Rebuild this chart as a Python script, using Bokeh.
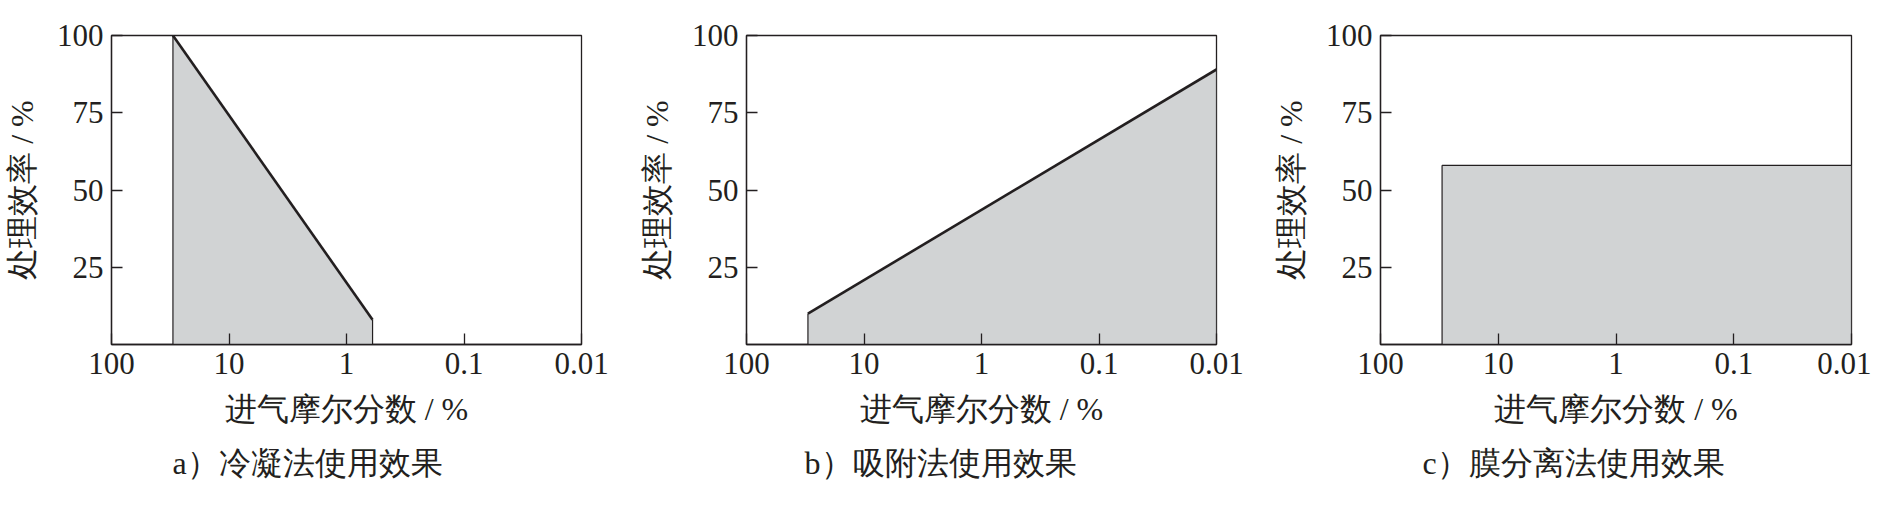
from bokeh.plotting import figure
from bokeh.models import Range1d, FixedTicker, CustomJSTickFormatter, Title
from bokeh.layouts import row
from bokeh.embed import file_html
from bokeh.resources import INLINE

# ---- data ----
x_ticks = [100, 10, 1, 0.1, 0.01]
y_ticks = [25, 50, 75, 100]
x_label = "进气摩尔分数 / %"
y_label = "处理效率 / %"
captions = ["a）冷凝法使用效果", "b）吸附法使用效果", "c）膜分离法使用效果"]

cond_x = [30, 0.6]      # condensation: feed mole fraction, %
cond_y = [100, 8]       # efficiency, %
ads_x = [30, 0.01]      # adsorption
ads_y = [10, 89]
mem_x = [30, 0.01]      # membrane separation
mem_y = [58, 58]

INK = "#231f20"
FILL = "#d1d3d4"
FONT = "Liberation Serif"
TOP = 35


def make_panel(xs, ys, caption, fw, bl, br, cap_off, thick):
    p = figure(x_axis_type="log", x_range=Range1d(100, 0.01), y_range=Range1d(0, 100),
               frame_width=fw, frame_height=309,
               min_border_left=bl, min_border_right=br, min_border_top=TOP, min_border_bottom=150,
               output_backend="svg", toolbar_location=None,
               background_fill_color="white", border_fill_color="white")
    p.grid.visible = False
    p.outline_line_color = INK
    p.outline_line_width = 1.3

    # shaded region and its edges
    p.varea(x=xs, y1=[0] * len(xs), y2=ys, fill_color=FILL)
    p.segment(x0=[xs[0], xs[-1]], y0=[0, 0], x1=[xs[0], xs[-1]], y1=[ys[0], ys[-1]],
              line_color=INK, line_width=1.2)
    p.line(xs, ys, line_color=INK, line_width=2.6 if thick else 1.3)

    for ax in (p.xaxis[0], p.yaxis[0]):
        ax.axis_line_color = INK
        ax.axis_line_width = 1.3
        ax.major_tick_line_color = INK
        ax.major_tick_line_width = 1.3
        ax.major_tick_in = 11
        ax.major_tick_out = 0
        ax.minor_tick_line_color = None
        ax.major_label_text_font = FONT
        ax.major_label_text_font_size = "31px"
        ax.major_label_text_color = INK
        ax.axis_label_text_font = FONT
        ax.axis_label_text_font_size = "32px"
        ax.axis_label_text_font_style = "normal"
        ax.axis_label_text_color = INK

    p.xaxis.ticker = FixedTicker(ticks=x_ticks)
    p.xaxis.formatter = CustomJSTickFormatter(code="""
        if (tick >= 1) { return tick.toFixed(0); }
        return parseFloat(tick.toPrecision(1)).toString();
    """)
    p.xaxis.major_label_standoff = 8
    p.xaxis.axis_label = x_label
    p.xaxis.axis_label_standoff = 14

    p.yaxis.ticker = FixedTicker(ticks=y_ticks)
    p.yaxis.major_label_standoff = 8
    p.yaxis.axis_label = y_label
    p.yaxis.axis_label_standoff = 14

    p.add_layout(Title(text=caption, align="left", offset=cap_off, standoff=26,
                       text_font=FONT, text_font_size="32px", text_font_style="normal",
                       text_color=INK), "below")
    return p


pa = make_panel(cond_x, cond_y, captions[0], 470, 105, 46, 61, True)
pb = make_panel(ads_x, ads_y, captions[1], 470, 119, 45, 58, True)
pc = make_panel(mem_x, mem_y, captions[2], 471, 119, 20, 42, False)

layout = row(pa, pb, pc)
open("out.html", "w").write(file_html(layout, INLINE))
